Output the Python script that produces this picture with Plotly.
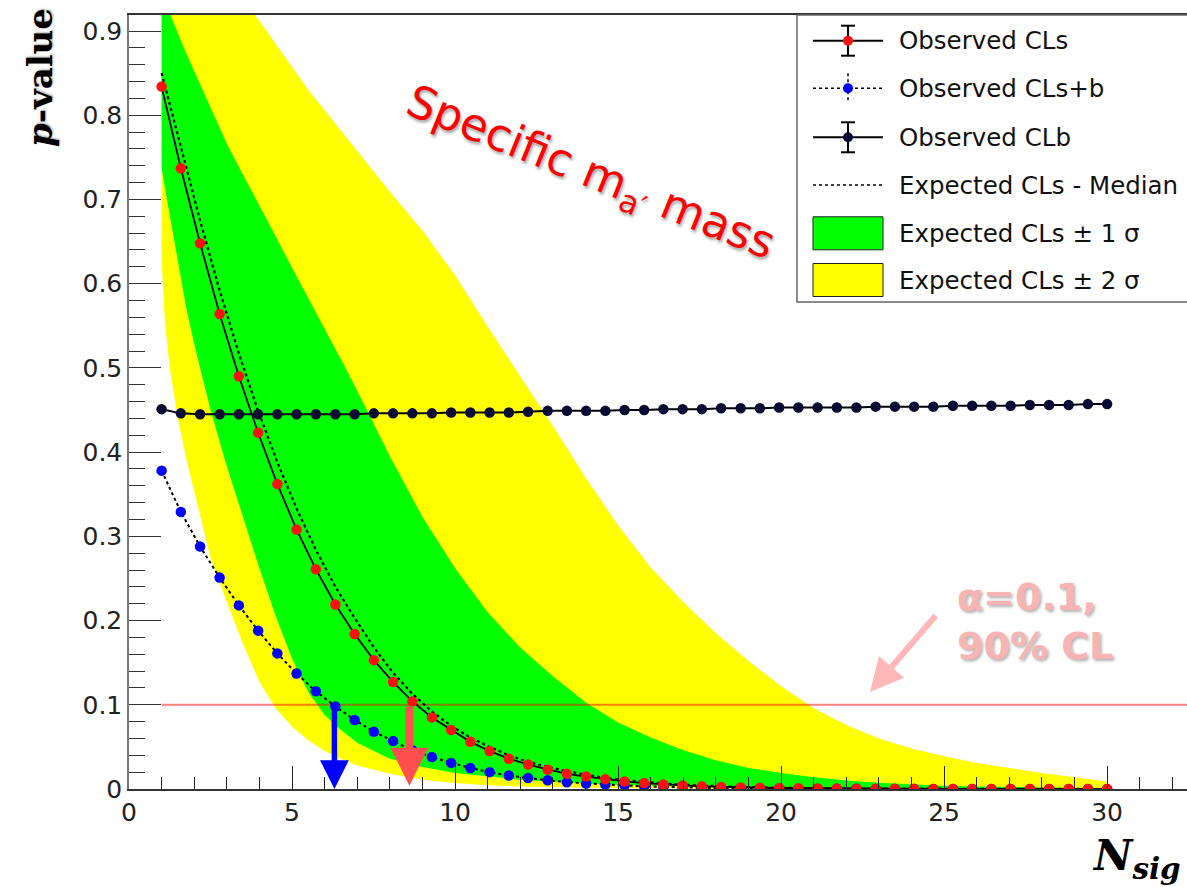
import plotly.graph_objects as go

# ---------------- data ----------------
n_sig = [1.00, 1.59, 2.18, 2.78, 3.37, 3.96, 4.55, 5.14, 5.73, 6.33,
         6.92, 7.51, 8.10, 8.69, 9.29, 9.88, 10.47, 11.06, 11.65, 12.24,
         12.84, 13.43, 14.02, 14.61, 15.20, 15.80, 16.39, 16.98, 17.57, 18.16,
         18.76, 19.35, 19.94, 20.53, 21.12, 21.71, 22.31, 22.90, 23.49, 24.08,
         24.67, 25.27, 25.86, 26.45, 27.04, 27.63, 28.22, 28.82, 29.41, 30.00]

obs_cls = [0.834, 0.737, 0.648, 0.564, 0.490, 0.423, 0.362, 0.308, 0.261, 0.219,
           0.184, 0.153, 0.127, 0.104, 0.085, 0.070, 0.056, 0.045, 0.036, 0.029,
           0.023, 0.018, 0.0148, 0.0115, 0.009, 0.007, 0.0054, 0.0042, 0.0032, 0.0025,
           0.0019, 0.0015, 0.0011, 0.0009, 0.0007, 0.0005, 0.0004, 0.0003, 0.0002, 0.0002,
           0.0001, 0.0001, 0.0001, 0.0001, 0.0, 0.0, 0.0, 0.0, 0.0, 0.0]

obs_clsb = [0.378, 0.329, 0.288, 0.251, 0.218, 0.188, 0.161, 0.137, 0.116, 0.098,
            0.082, 0.068, 0.057, 0.046, 0.038, 0.031, 0.025, 0.020, 0.016, 0.013,
            0.0103, 0.0081, 0.0066, 0.0052, 0.0041, 0.0032, 0.0024, 0.0019, 0.0014, 0.0011,
            0.0009, 0.0007, 0.0005, 0.0004, 0.0003, 0.0002, 0.0002, 0.0001, 0.0001, 0.0001,
            0.0, 0.0, 0.0, 0.0, 0.0, 0.0, 0.0, 0.0, 0.0, 0.0]

obs_clb = [0.451, 0.446, 0.445, 0.445, 0.445, 0.445, 0.445, 0.445, 0.445, 0.445,
           0.445, 0.446, 0.446, 0.446, 0.446, 0.447, 0.447, 0.447, 0.447, 0.448,
           0.449, 0.449, 0.449, 0.449, 0.450, 0.450, 0.451, 0.451, 0.451, 0.452,
           0.452, 0.452, 0.453, 0.453, 0.453, 0.453, 0.453, 0.454, 0.454, 0.454,
           0.454, 0.455, 0.455, 0.455, 0.455, 0.456, 0.456, 0.456, 0.457, 0.457]

exp_median = [0.850, 0.763, 0.675, 0.592, 0.517, 0.449, 0.388, 0.333, 0.284, 0.240,
              0.203, 0.168, 0.138, 0.113, 0.092, 0.075, 0.061, 0.050, 0.040, 0.032,
              0.026, 0.021, 0.017, 0.013, 0.0105, 0.0083, 0.0065, 0.0051, 0.0040, 0.0031,
              0.0024, 0.0019, 0.0014, 0.0011, 0.0009, 0.0007, 0.0005, 0.0004, 0.0003, 0.0002,
              0.0002, 0.0001, 0.0001, 0.0001, 0.0001, 0.0, 0.0, 0.0, 0.0, 0.0]

band_x = [1, 1.1, 1.25, 1.5, 1.75, 2, 2.5, 3, 3.5, 4, 4.5, 5, 5.5, 6, 6.5, 7,
          8, 9, 10, 11, 12, 13, 14, 15, 16, 17, 18, 19, 20, 21, 22, 23, 24, 25,
          26, 27, 28, 29, 30]
exp_plus2 = [1.02, 1.015, 1.01, 1.0, 0.995, 0.99, 0.975, 0.955, 0.935, 0.912, 0.885,
             0.857, 0.83, 0.806, 0.782, 0.758,
             0.709, 0.663, 0.61, 0.549, 0.49, 0.431, 0.37, 0.313, 0.263, 0.222, 0.185,
             0.152, 0.122, 0.096, 0.076, 0.060, 0.048, 0.039, 0.031, 0.025, 0.019, 0.014, 0.009]
exp_plus1 = [0.945, 0.935, 0.92, 0.897, 0.874, 0.852, 0.808, 0.766, 0.729, 0.693, 0.656,
             0.619, 0.583, 0.547, 0.51, 0.473,
             0.395, 0.323, 0.262, 0.21, 0.168, 0.134, 0.103, 0.079, 0.061, 0.046, 0.034,
             0.025, 0.019, 0.014, 0.010, 0.0075, 0.0055, 0.004, 0.003, 0.0022, 0.0016, 0.0012, 0.001]
exp_minus1 = [0.737, 0.714, 0.68, 0.625, 0.572, 0.528, 0.45, 0.383, 0.322, 0.262, 0.205,
              0.155, 0.115, 0.088, 0.07, 0.055,
              0.036, 0.026, 0.019, 0.015, 0.011, 0.0085, 0.0065, 0.005, 0.004, 0.003, 0.0023,
              0.0018, 0.0014, 0.001, 0.0008, 0.0006, 0.0005, 0.0004, 0.0003, 0.0002, 0.0002, 0.0001, 0.0001]
exp_minus2 = [0.63, 0.555, 0.50, 0.44, 0.393, 0.353, 0.275, 0.222, 0.172, 0.127, 0.096,
              0.074, 0.058, 0.045, 0.036, 0.028,
              0.018, 0.011, 0.007, 0.0045, 0.003, 0.002, 0.0015, 0.001, 0.0008, 0.0006, 0.0005,
              0.0004, 0.0003, 0.0002, 0.0002, 0.0001, 0.0001, 0.0001, 0.0001, 0.0, 0.0, 0.0, 0.0]

alpha_level = 0.1
limit_clsb = 6.3
limit_cls = 8.6

legend_labels = ["Observed CLs", "Observed CLs+b", "Observed CLb",
                 "Expected CLs - Median", "Expected CLs \u00b1 1 \u03c3", "Expected CLs \u00b1 2 \u03c3"]

X_MAX = 32.45
Y_MAX = 0.919

# ---------------- layout helpers ----------------
W, H = 1187, 887
ML, MR, MT, MB = 129, 0, 15, 98


def px(X):
    return (X - ML) / (W - ML - MR)


def py(Y):
    return (H - MB - Y) / (H - MT - MB)


fig = go.Figure()

# bands
fig.add_trace(go.Scatter(x=band_x + band_x[::-1], y=exp_plus2 + exp_minus2[::-1],
                         fill='toself', fillcolor='#ffff00', mode='lines',
                         line=dict(width=0, color='#ffff00'), hoverinfo='skip', showlegend=False))
fig.add_trace(go.Scatter(x=band_x + band_x[::-1], y=exp_plus1 + exp_minus1[::-1],
                         fill='toself', fillcolor='#00ff00', mode='lines',
                         line=dict(width=0, color='#00ff00'), hoverinfo='skip', showlegend=False))

# alpha line
fig.add_trace(go.Scatter(x=[n_sig[0], X_MAX], y=[alpha_level, alpha_level], mode='lines',
                         line=dict(color='rgba(255,0,0,0.5)', width=2), showlegend=False))

# expected median
fig.add_trace(go.Scatter(x=n_sig, y=exp_median, mode='lines',
                         line=dict(color='black', dash='dot', width=2.2), showlegend=False))

# observed CLs+b
fig.add_trace(go.Scatter(x=n_sig, y=obs_clsb, mode='lines+markers',
                         line=dict(color='black', dash='dot', width=2),
                         marker=dict(color='#0000ff', size=10.5), showlegend=False))

# observed CLb
fig.add_trace(go.Scatter(x=n_sig, y=obs_clb, mode='lines+markers',
                         line=dict(color='black', width=2),
                         marker=dict(color='#0a0a33', size=10.5), showlegend=False))

# observed CLs
fig.add_trace(go.Scatter(x=n_sig, y=obs_cls, mode='lines+markers',
                         line=dict(color='black', width=1.8),
                         marker=dict(color='#ff1010', size=10.5), showlegend=False))

shapes = []
annotations = []

# limit arrows
annotations.append(dict(x=limit_clsb, y=0.0, xref='x', yref='y', ax=limit_clsb, ay=alpha_level,
                        axref='x', ayref='y', text='', showarrow=True, arrowhead=2,
                        arrowwidth=5.5, arrowsize=1.05, arrowcolor='#0000ff', standoff=0))
annotations.append(dict(x=limit_cls, y=0.004, xref='x', yref='y', ax=limit_cls, ay=alpha_level,
                        axref='x', ayref='y', text='', showarrow=True, arrowhead=2,
                        arrowwidth=8, arrowsize=0.95, arrowcolor='#ff5050', standoff=0))

# pink arrow
annotations.append(dict(x=px(870), y=py(692), xref='paper', yref='paper', ax=67, ay=-78,
                        text='', showarrow=True, arrowhead=2, arrowwidth=6, arrowsize=1.1,
                        arrowcolor='#ffb8b8', standoff=0))
annotations.append(dict(x=px(955), y=py(621), xref='paper', yref='paper', xanchor='left',
                        yanchor='middle', align='left', showarrow=False,
                        text='<b>\u03b1=0.1,<br>90% CL</b>',
                        font=dict(family='DejaVu Sans', size=38, color='#f7b4b4',
                                  shadow='2px 2px 3px rgba(0,0,0,0.3)')))

# Specific mass text
annotations.append(dict(x=px(590), y=py(174), xref='paper', yref='paper', xanchor='center',
                        yanchor='middle', showarrow=False, textangle=22,
                        text='Specific m<sub>a\u2032</sub> mass',
                        font=dict(family='DejaVu Sans', size=45, color='#ff0000',
                                  shadow='2px 2px 3px rgba(0,0,0,0.35)')))

# axis titles
annotations.append(dict(x=px(40), y=py(78), xref='paper', yref='paper', xanchor='center',
                        yanchor='middle', showarrow=False, textangle=-90,
                        text='<b><i>p</i>-value</b>',
                        font=dict(family='DejaVu Serif', size=34, color='black',
                                  shadow='1px 1px 2px rgba(0,0,0,0.35)')))
annotations.append(dict(x=px(1183), y=py(858), xref='paper', yref='paper', xanchor='right',
                        yanchor='middle', showarrow=False,
                        text='<b><i>N<sub>sig</sub></i></b>',
                        font=dict(family='DejaVu Serif', size=42, color='black')))

# manual legend
shapes.append(dict(type='rect', xref='paper', yref='paper', x0=px(797), x1=px(1190),
                   y0=py(302), y1=py(15), line=dict(color='#666666', width=1.5),
                   fillcolor='white', layer='above'))
rows = [40.7, 88.3, 137.3, 185.0, 233.3, 280.0]
sx0, sx1, sxc = 813, 883, 848
marker_cols = ['#ff1010', '#0000ff', '#0a0a33']
for i in range(3):
    yr = rows[i]
    dash = 'dot' if i == 1 else 'solid'
    shapes.append(dict(type='line', xref='paper', yref='paper', x0=px(sx0), x1=px(sx1),
                       y0=py(yr), y1=py(yr), line=dict(color='black', width=2 if i != 1 else 1.5, dash=dash),
                       layer='above'))
    shapes.append(dict(type='line', xref='paper', yref='paper', x0=px(sxc), x1=px(sxc),
                       y0=py(yr - 15), y1=py(yr + 15), line=dict(color='black', width=2 if i != 1 else 1.5, dash=dash),
                       layer='above'))
    if i != 1:
        for yy in (yr - 15, yr + 15):
            shapes.append(dict(type='line', xref='paper', yref='paper', x0=px(sxc - 7), x1=px(sxc + 7),
                               y0=py(yy), y1=py(yy), line=dict(color='black', width=2), layer='above'))
    shapes.append(dict(type='circle', xref='paper', yref='paper', xsizemode='pixel', ysizemode='pixel',
                       xanchor=px(sxc), yanchor=py(yr), x0=-5, x1=5, y0=-5, y1=5,
                       fillcolor=marker_cols[i], line=dict(width=0), layer='above'))
shapes.append(dict(type='line', xref='paper', yref='paper', x0=px(sx0), x1=px(sx1),
                   y0=py(rows[3]), y1=py(rows[3]), line=dict(color='black', width=1.5, dash='dot'),
                   layer='above'))
for i, col in ((4, '#00ff00'), (5, '#ffff00')):
    shapes.append(dict(type='rect', xref='paper', yref='paper', x0=px(sx0), x1=px(sx1),
                       y0=py(rows[i] + 16.5), y1=py(rows[i] - 16.5), fillcolor=col,
                       line=dict(color='#222222', width=1), layer='above'))
for i, lab in enumerate(legend_labels):
    annotations.append(dict(x=px(897), y=py(rows[i]), xref='paper', yref='paper', xanchor='left',
                            yanchor='middle', showarrow=False, text=lab,
                            font=dict(family='DejaVu Sans', size=24.5, color='#111111')))

fig.update_layout(
    width=W, height=H,
    margin=dict(l=ML, r=MR, t=MT, b=MB, pad=0),
    paper_bgcolor='white', plot_bgcolor='white',
    showlegend=False,
    shapes=shapes, annotations=annotations,
    font=dict(family='DejaVu Sans', size=25, color='#222222'),
)
fig.update_xaxes(range=[0, X_MAX], tick0=0, dtick=5, ticks='inside', ticklen=23, tickwidth=1.3,
                 tickcolor='#222222', showline=True, linecolor='#333333', linewidth=1.5, mirror=True,
                 showgrid=False, zeroline=False,
                 minor=dict(dtick=1, ticks='inside', ticklen=12, tickcolor='#222222', tickwidth=1.3),
                 tickfont=dict(family='DejaVu Sans', size=25, color='#222222'))
fig.update_yaxes(range=[0, Y_MAX], tick0=0, dtick=0.1, ticks='inside', ticklen=32, tickwidth=1.3,
                 tickcolor='#333333', showline=True, linecolor='#777777', linewidth=1.5, mirror=False,
                 showgrid=False, zeroline=False,
                 minor=dict(dtick=0.02, ticks='inside', ticklen=16, tickcolor='#333333', tickwidth=1.3),
                 tickfont=dict(family='DejaVu Sans', size=25, color='#222222'))

fig.write_html("out.html")
